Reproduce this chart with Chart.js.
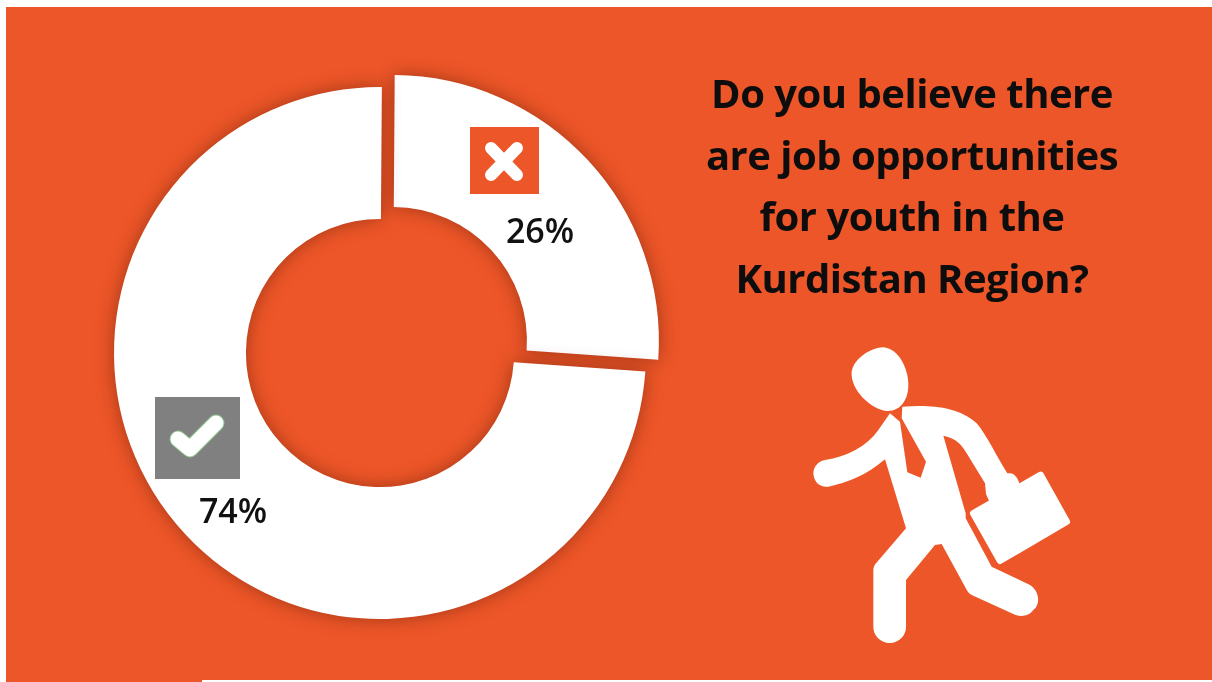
<!DOCTYPE html>
<html>
<head>
<meta charset="utf-8">
<script src="https://cdn.jsdelivr.net/npm/chart.js@4"></script>
<style>
  html, body { margin: 0; padding: 0; background: #fff; overflow: hidden; }
  #page { position: relative; width: 1212px; height: 682px; overflow: hidden; }
  .bg { position: absolute; background: #ed5628; }
  #chart { position: absolute; left: 0; top: 0; }
  #title {
    position: absolute; left: 662px; top: 62px; width: 500px; text-align: center;
    font-family: "Open Sans", sans-serif; font-weight: 700; font-size: 40px;
    line-height: 61.7px; color: #0d0d0d; letter-spacing: -0.5px;
  }
  #deco { position: absolute; left: 0; top: 0; }
</style>
</head>
<body>
<div id="page">
  <div class="bg" style="left:6px;top:7px;width:1206px;height:673px"></div>
  <div class="bg" style="left:6px;top:680px;width:196px;height:2px"></div>
  <canvas id="chart" width="1212" height="682"></canvas>
  <svg id="deco" width="1212" height="682">
    <!-- no / yes markers -->
    <rect x="470" y="127" width="69" height="67" fill="#ed5628"/>
    <path d="M491 148 L517 175 M517 148 L491 175" stroke="#fff" stroke-width="12" stroke-linecap="round"/>
    <rect x="155" y="397" width="85" height="82" fill="#808080"/>
    <path d="M178 439 L190 449 L216 423" fill="none" stroke="#8fc48f" stroke-width="17" stroke-linecap="round" stroke-linejoin="round"/>
    <path d="M178 439 L190 449 L216 423" fill="none" stroke="#fff" stroke-width="15" stroke-linecap="round" stroke-linejoin="round"/>
    <!-- running man, traced at 3x -->
    <g transform="translate(800 340) scale(0.33333)" fill="#fff">
      <path d="M155 95 C160 60 205 25 250 22 C295 25 325 85 325 135 C325 175 305 213 262 213 C215 210 150 150 155 95 Z"/>
      <path d="M270 220 L300 245 L322 397 L362 413 L378 365 L305 235 L307 200 C380 195 470 195 530 250 C560 285 590 350 622 400 C640 398 650 405 660 435 L570 490 L558 462 L555 430 L500 340 C485 315 470 295 430 287 L497 520 L497 535 L575 680 L690 735 C715 750 725 790 700 810 C685 830 660 832 640 822 L515 765 C505 760 500 750 495 740 L425 612 L405 615 L318 720 L318 860 A49 49 0 0 1 220 860 L220 690 C220 680 225 672 232 665 L318 565 L255 358 C200 405 140 430 85 440 C55 443 40 420 40 398 C42 375 60 362 75 360 C140 350 200 320 235 270 Z"/>
      <path d="M520 520 L722 405 L800 545 L600 662 Z" stroke="#fff" stroke-width="20" stroke-linejoin="round"/>
    </g>
  </svg>
  <div id="title">Do you believe there<br>are job opportunities<br>for youth in the<br>Kurdistan Region?</div>
</div>
<script>
// Do you believe there are job opportunities for youth
var categories = ['No', 'Yes'];
var values = [26, 74];
var sliceColors = ['#ffffff', '#ffffff'];
var sliceOffsets = [70, 0];
var labelSpots = [[540, 233], [233, 513]];

// soft drop shadow behind the slices
var shadowPlugin = {
  id: 'sliceShadow',
  beforeDatasetDraw: function (chart) {
    var ctx = chart.ctx;
    ctx.save();
    ctx.shadowColor = 'rgba(90,25,5,0.5)';
    ctx.shadowBlur = 18;
  },
  afterDatasetDraw: function (chart) {
    chart.ctx.restore();
  }
};

// percent labels under the markers
var percentPlugin = {
  id: 'percentLabels',
  afterDraw: function (chart) {
    var ctx = chart.ctx;
    ctx.save();
    ctx.font = '600 34px "Open Sans", sans-serif';
    ctx.fillStyle = '#111111';
    ctx.textAlign = 'center';
    ctx.textBaseline = 'middle';
    values.forEach(function (v, i) {
      ctx.fillText(v + '%', labelSpots[i][0], labelSpots[i][1]);
    });
    ctx.restore();
  }
};

var doughnut = document.getElementById('chart');
var doughnutConfig = new Chart(doughnut, {
  type: 'doughnut',
  data: {
    labels: categories,
    datasets: [{
      data: values,
      backgroundColor: sliceColors,
      hoverBackgroundColor: sliceColors,
      borderWidth: 0,
      offset: sliceOffsets
    }]
  },
  options: {
    responsive: false,
    animation: false,
    radius: 266,
    cutout: '50.4%',
    rotation: 0.4,
    layout: { padding: { left: 0, right: 452, top: 24, bottom: 0 } },
    plugins: { legend: { display: false }, tooltip: { enabled: false } }
  },
  plugins: [shadowPlugin, percentPlugin]
});
</script>
</body>
</html>
